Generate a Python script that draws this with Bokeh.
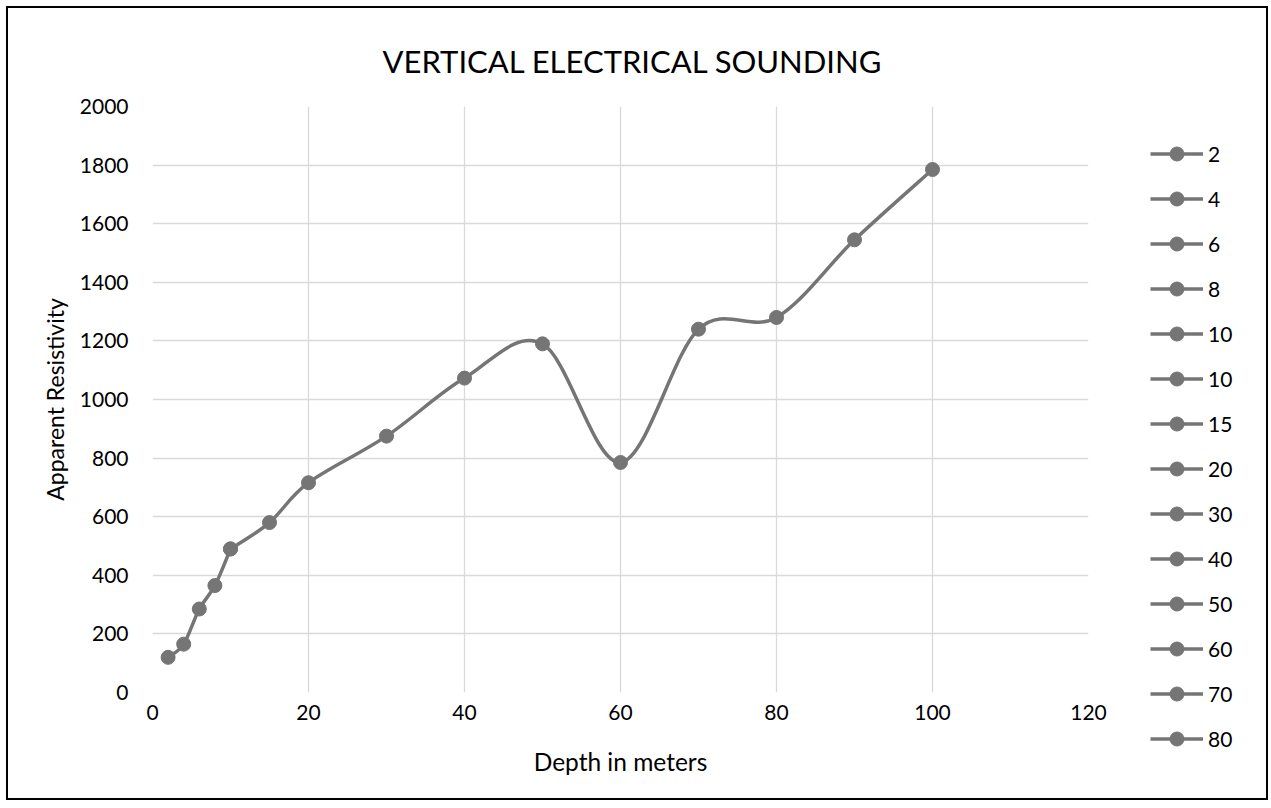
from bokeh.plotting import figure
from bokeh.models import Legend, LegendItem, FixedTicker, Range1d
from bokeh.embed import file_html
from bokeh.resources import INLINE

# ---- data ----
depth_labels = ["2", "4", "6", "8", "10", "10", "15", "20", "30", "40",
                "50", "60", "70", "80", "90", "100"]
depth = [2, 4, 6, 8, 10, 10, 15, 20, 30, 40, 50, 60, 70, 80, 90, 100]
resistivity = [120, 165, 285, 365, 490, 490, 580, 716, 875, 1073,
               1190, 785, 1240, 1280, 1545, 1785]
x_ticks = [0, 20, 40, 60, 80, 100, 120]
y_ticks = [0, 200, 400, 600, 800, 1000, 1200, 1400, 1600, 1800, 2000]
n_legend = 14  # entries visible in the legend

FONT = "Lato"
GREY = "#757575"

p = figure(frame_width=936, frame_height=586, output_backend="svg", toolbar_location=None,
           x_range=Range1d(x_ticks[0], x_ticks[-1]),
           y_range=Range1d(y_ticks[0], y_ticks[-1]),
           min_border_left=144, min_border_right=178,
           min_border_top=98, min_border_bottom=106)
p.styles = {"margin-left": "6px", "margin-top": "6px", "border": "2px solid black",
            "width": "1262px", "height": "794px", "overflow": "hidden",
            "box-sizing": "border-box"}
p.outline_line_color = None
p.background_fill_color = "white"
p.border_fill_color = "white"

p.title.text = "VERTICAL ELECTRICAL SOUNDING"
p.title.align = "left"
p.title.offset = 230
p.title.text_font = FONT
p.title.text_font_size = "31px"
p.title.text_font_style = "normal"
p.title.text_color = "black"
p.title.standoff = 54

p.xaxis.ticker = FixedTicker(ticks=x_ticks)
p.yaxis.ticker = FixedTicker(ticks=y_ticks)
for ax in (p.xaxis, p.yaxis):
    ax.major_tick_line_color = None
    ax.minor_tick_line_color = None
    ax.major_tick_out = 0
    ax.major_tick_in = 0
    ax.axis_line_color = None
    ax.major_label_text_font = FONT
    ax.major_label_text_font_size = "21px"
    ax.major_label_text_color = "black"
    ax.axis_label_text_font = FONT
    ax.axis_label_text_font_style = "normal"
    ax.axis_label_text_color = "black"
p.xaxis.axis_label_text_font_size = "24.5px"
p.yaxis.axis_label_text_font_size = "23px"
p.xaxis.axis_label = "Depth in meters"
p.yaxis.axis_label = "Apparent Resistivity"
p.xaxis.major_label_standoff = 12
p.yaxis.major_label_standoff = 24
p.xaxis.axis_label_standoff = 24
p.yaxis.axis_label_standoff = 8

p.grid.grid_line_color = "#d9d9d9"
p.grid.grid_line_width = 1.3

# smoothed connecting curve (Catmull-Rom style Bezier segments, as Excel)
n = len(depth)
x0s, y0s, x1s, y1s, cx0s, cy0s, cx1s, cy1s = [], [], [], [], [], [], [], []
for i in range(n - 1):
    if depth[i] == depth[i + 1] and resistivity[i] == resistivity[i + 1]:
        continue
    ip = i - 1 if i > 0 else i
    inx = i + 2 if i + 2 < n else i + 1
    x0s.append(depth[i]); y0s.append(resistivity[i])
    x1s.append(depth[i + 1]); y1s.append(resistivity[i + 1])
    cx0s.append(depth[i] + (depth[i + 1] - depth[ip]) / 6)
    cy0s.append(resistivity[i] + (resistivity[i + 1] - resistivity[ip]) / 6)
    cx1s.append(depth[i + 1] - (depth[inx] - depth[i]) / 6)
    cy1s.append(resistivity[i + 1] - (resistivity[inx] - resistivity[i]) / 6)
p.bezier(x0=x0s, y0=y0s, x1=x1s, y1=y1s, cx0=cx0s, cy0=cy0s, cx1=cx1s, cy1=cy1s,
         line_color=GREY, line_width=3.5)

items = []
for i in range(n):
    rl = p.line(x=[depth[i]], y=[resistivity[i]], line_color=GREY, line_width=3.5)
    rs = p.scatter(x=[depth[i]], y=[resistivity[i]], size=14,
                   fill_color=GREY, line_color=GREY)
    if i < n_legend:
        items.append(LegendItem(label=depth_labels[i], renderers=[rl, rs]))

legend = Legend(items=items, location=(62, -64), padding=0, margin=0,
                spacing=10, glyph_width=53, glyph_height=35, label_height=35,
                label_standoff=5, border_line_alpha=0, background_fill_alpha=0,
                label_text_font=FONT, label_text_font_size="21px",
                label_text_color="black")
p.add_layout(legend, "right")

open("out.html", "w").write(file_html(p, INLINE))
